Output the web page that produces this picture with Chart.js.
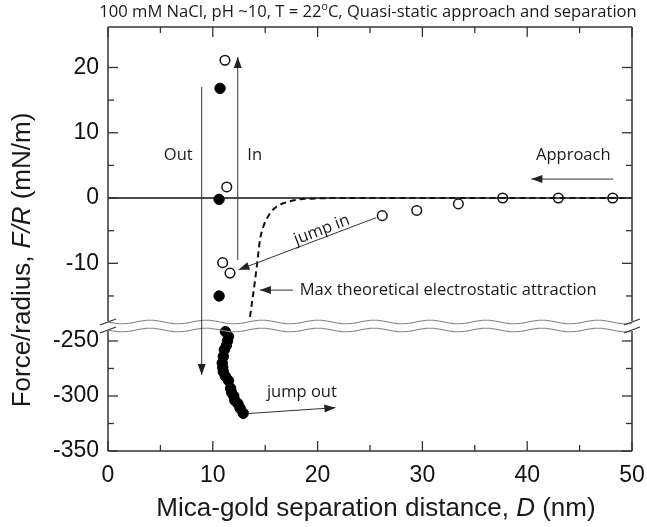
<!DOCTYPE html>
<html><head><meta charset="utf-8">
<script src="https://cdn.jsdelivr.net/npm/chart.js@4.4.1/dist/chart.umd.min.js"></script>
<style>html,body{margin:0;padding:0;background:#fff;}#wrap{width:647px;height:527px;}</style>
</head><body><div id="wrap"><canvas id="c" width="647" height="527"></canvas></div>
<script>
// ---- data ----
const xTicks = [0, 10, 20, 30, 40, 50];
const xMinorTicks = [5, 15, 25, 35, 45];
const yTopTicks = [20, 10, 0, -10];
const yTopMinorTicks = [15, 5, -5, -15];
const yBotTicks = [-250, -300, -350];
const yBotMinorTicks = [-275, -325];

// approach (open circles) far field
const approachD = [48.16, 42.97, 37.66, 33.43, 29.46, 26.17];
const approachF = [0, 0, 0, -0.9, -1.9, -2.7];
// after jump-in, loading (open circles)
const inD = [11.64, 10.94, 11.33, 11.16];
const inF = [-11.5, -9.9, 1.7, 21.1];
// separation (filled circles), upper panel
const outUpperD = [10.69, 10.6, 10.6];
const outUpperF = [16.8, -0.2, -15];
// separation (filled circles), lower panel
const outLowerD = [11.2, 11.5, 11.4, 11.3, 11.1, 11.0, 10.9, 10.95, 11.0, 11.2, 11.5, 11.7, 11.8, 12.0, 12.1, 12.4, 12.6, 12.9];
const outLowerF = [-241.5, -246, -250, -254, -258, -264, -270, -274, -278, -282, -286, -293, -297, -300, -304, -307, -311, -315.7];
// max theoretical electrostatic attraction (dashed)
const theoryD = [13.55, 14.12, 14.34, 14.5, 14.82, 15.46, 16.1, 16.73, 18.32, 19.3, 22, 50];
const theoryF = [-18.2, -11.5, -8.5, -6.4, -4.4, -2.35, -1.3, -0.8, -0.2, -0.1, 0, 0];
// zero reference line
const zeroD = [0, 50];
const zeroF = [0, 0];

const pts = (xs, ys) => xs.map((x, i) => ({x: x, y: ys[i]}));

const SANS = "'Open Sans', 'Noto Sans', sans-serif";
const ARIAL = "'Liberation Sans', Arial, sans-serif";

function drawRuns(ctx, runs, x, y, align) {
  let total = 0;
  runs.forEach(r => { ctx.font = r.font; r.w = ctx.measureText(r.t).width; total += r.w; });
  let cx = align === 'center' ? x - total / 2 : (align === 'right' ? x - total : x);
  ctx.textAlign = 'left';
  ctx.textBaseline = 'middle';
  runs.forEach(r => { ctx.font = r.font; ctx.fillText(r.t, cx, y + (r.dy || 0)); cx += r.w; });
}
function arrow(ctx, x1, y1, x2, y2) {
  ctx.beginPath(); ctx.moveTo(x1, y1); ctx.lineTo(x2, y2); ctx.stroke();
  const ang = Math.atan2(y2 - y1, x2 - x1);
  const L = 11, W = 4;
  ctx.beginPath();
  ctx.moveTo(x2, y2);
  ctx.lineTo(x2 - L * Math.cos(ang) + W * Math.sin(ang), y2 - L * Math.sin(ang) - W * Math.cos(ang));
  ctx.lineTo(x2 - L * Math.cos(ang) - W * Math.sin(ang), y2 - L * Math.sin(ang) + W * Math.cos(ang));
  ctx.closePath(); ctx.fill();
}
function line(ctx, x1, y1, x2, y2) { ctx.beginPath(); ctx.moveTo(x1, y1); ctx.lineTo(x2, y2); ctx.stroke(); }

const decor = {
  id: 'decor',
  afterDraw(chart) {
    const ctx = chart.ctx, a = chart.chartArea;
    const sx = chart.scales.x, st = chart.scales.yTop, sb = chart.scales.yBot;
    const X = v => sx.getPixelForValue(v), YT = v => st.getPixelForValue(v), YB = v => sb.getPixelForValue(v);
    const brk = st.bottom;
    const w1 = brk - 4, w2 = brk + 4;
    ctx.save();
    // frame
    ctx.strokeStyle = '#333'; ctx.lineWidth = 1.5;
    line(ctx, a.left, a.top, a.right, a.top);
    line(ctx, a.left, a.bottom, a.right, a.bottom);
    line(ctx, a.left, a.top, a.left, w1 - 1); line(ctx, a.left, w2 + 1, a.left, a.bottom);
    line(ctx, a.right, a.top, a.right, w1 - 1); line(ctx, a.right, w2 + 1, a.right, a.bottom);
    // ticks
    ctx.lineWidth = 1.3;
    xTicks.forEach(v => { const p = X(v); line(ctx, p, a.bottom, p, a.bottom - 10); line(ctx, p, a.top, p, a.top + 10); });
    xMinorTicks.forEach(v => { const p = X(v); line(ctx, p, a.bottom, p, a.bottom - 6); line(ctx, p, a.top, p, a.top + 6); });
    const yt = (p, L) => { line(ctx, a.left, p, a.left + L, p); line(ctx, a.right, p, a.right - L, p); };
    yTopTicks.forEach(v => yt(YT(v), 10));
    yTopMinorTicks.forEach(v => yt(YT(v), 6));
    yBotTicks.forEach(v => yt(YB(v), 10));
    yBotMinorTicks.forEach(v => yt(YB(v), 6));
    // break: wavy lines
    ctx.strokeStyle = '#8a8a8a'; ctx.lineWidth = 1.1;
    [w1, w2].forEach(yy => {
      ctx.beginPath();
      for (let px = a.left; px <= a.right; px += 1) {
        const q = yy + 1.8 * Math.sin(2 * Math.PI * (px - a.left) / 56);
        if (px === a.left) ctx.moveTo(px, q); else ctx.lineTo(px, q);
      }
      ctx.stroke();
    });
    ctx.strokeStyle = '#333'; ctx.lineWidth = 1.3;
    [a.left, a.right].forEach(px => {
      line(ctx, px - 8, w1 + 3, px + 8, w1 - 3);
      line(ctx, px - 8, w2 + 3, px + 8, w2 - 3);
    });
    // annotation arrows
    ctx.strokeStyle = '#333'; ctx.fillStyle = '#222'; ctx.lineWidth = 1;
    arrow(ctx, X(8.94), YT(17), X(8.94), YB(-281));           // Out
    arrow(ctx, X(12.38), YT(-9.5), X(12.38), YT(21.6));        // In
    arrow(ctx, X(25.6), YT(-3.0), X(12.45), YT(-11.0));        // jump in
    arrow(ctx, X(17.65), YT(-14.1), X(14.5), YT(-14.1));       // max theoretical
    arrow(ctx, X(48.2), YT(2.9), X(40.4), YT(2.9));            // Approach
    arrow(ctx, X(13.3), YB(-316), X(21.7), YB(-310.6));        // jump out
    // annotation text
    ctx.fillStyle = '#1a1a1a';
    const fA = '16.5px ' + SANS;
    drawRuns(ctx, [{t: 'Out', font: fA}], X(6.7), YT(6.6), 'center');
    drawRuns(ctx, [{t: 'In', font: fA}], X(14.0), YT(6.6), 'center');
    drawRuns(ctx, [{t: 'Approach', font: fA}], X(44.4), YT(6.6), 'center');
    drawRuns(ctx, [{t: 'Max theoretical electrostatic attraction', font: fA}], X(18.3), YT(-14.1), 'left');
    drawRuns(ctx, [{t: 'jump out', font: fA}], X(18.5), YB(-297), 'center');
    ctx.save();
    ctx.translate(X(20.4), YT(-4.9));
    ctx.rotate(-21 * Math.PI / 180);
    drawRuns(ctx, [{t: 'jump in', font: fA}], 0, 0, 'center');
    ctx.restore();
    // title
    const fT = '16.6px ' + SANS;
    drawRuns(ctx, [
      {t: '100 mM NaCl, pH ~10, T = 22', font: fT},
      {t: 'o', font: '10.5px ' + SANS, dy: -5},
      {t: 'C, Quasi-static approach and separation', font: fT}
    ], 368, 12, 'center');
    // axis titles
    const fX = '26px ' + ARIAL, fXi = 'italic 26px ' + ARIAL;
    drawRuns(ctx, [
      {t: 'Mica-gold separation distance, ', font: fX},
      {t: 'D', font: fXi},
      {t: ' (nm)', font: fX}
    ], 376, 509, 'center');
    ctx.save();
    ctx.translate(23, 260);
    ctx.rotate(-Math.PI / 2);
    drawRuns(ctx, [
      {t: 'Force/radius, ', font: fX},
      {t: 'F/R', font: fXi},
      {t: ' (mN/m)', font: fX}
    ], 0, 0, 'center');
    ctx.restore();
    ctx.restore();
  }
};

const tickFont = {family: ARIAL, size: 23};
const yCommon = {
  type: 'linear', position: 'left', stack: 'y',
  grid: {display: false, drawTicks: false}, border: {display: false},
  ticks: {font: tickFont, color: '#111', padding: 9, autoSkip: false},
  afterFit: s => { s.width = 108; s.paddingTop = 0; s.paddingBottom = 0; }
};

new Chart(document.getElementById('c'), {
  type: 'scatter',
  data: {datasets: [
    {data: pts(zeroD, zeroF), yAxisID: 'yTop', showLine: true, borderColor: '#111', borderWidth: 1.6, pointRadius: 0},
    {data: pts(theoryD, theoryF), yAxisID: 'yTop', showLine: true, borderColor: '#111', borderWidth: 2, borderDash: [6, 4], pointRadius: 0, cubicInterpolationMode: 'monotone'},
    {data: pts(approachD, approachF), yAxisID: 'yTop', pointRadius: 4.8, pointBackgroundColor: '#fff', pointBorderColor: '#111', pointBorderWidth: 1.5},
    {data: pts(inD, inF), yAxisID: 'yTop', pointRadius: 4.8, pointBackgroundColor: '#fff', pointBorderColor: '#111', pointBorderWidth: 1.5},
    {data: pts(outUpperD, outUpperF), yAxisID: 'yTop', pointRadius: 5.2, pointBackgroundColor: '#000', pointBorderColor: '#000', pointBorderWidth: 1},
    {data: pts(outLowerD, outLowerF), yAxisID: 'yBot', pointRadius: 5.2, pointBackgroundColor: '#000', pointBorderColor: '#000', pointBorderWidth: 1}
  ]},
  options: {
    responsive: false, animation: false, devicePixelRatio: 1,
    layout: {padding: {top: 27, right: 15, left: 0, bottom: 0}},
    plugins: {legend: {display: false}, tooltip: {enabled: false}, title: {display: false}},
    scales: {
      x: {
        type: 'linear', min: 0, max: 50,
        grid: {display: false, drawTicks: false}, border: {display: false},
        ticks: {font: tickFont, color: '#111', padding: 11, autoSkip: false, maxRotation: 0},
        afterBuildTicks: s => { s.ticks = xTicks.map(v => ({value: v})); },
        afterFit: s => { s.height = 76; s.paddingLeft = 0; s.paddingRight = 0; }
      },
      yBot: Object.assign({}, yCommon, {
        stackWeight: 125, min: -350, max: -236.4,
        afterBuildTicks: s => { s.ticks = yBotTicks.map(v => ({value: v})); }
      }),
      yTop: Object.assign({}, yCommon, {
        stackWeight: 299, min: -19.6, max: 26.2,
        afterBuildTicks: s => { s.ticks = yTopTicks.map(v => ({value: v})); }
      })
    }
  },
  plugins: [decor]
});
</script></body></html>
